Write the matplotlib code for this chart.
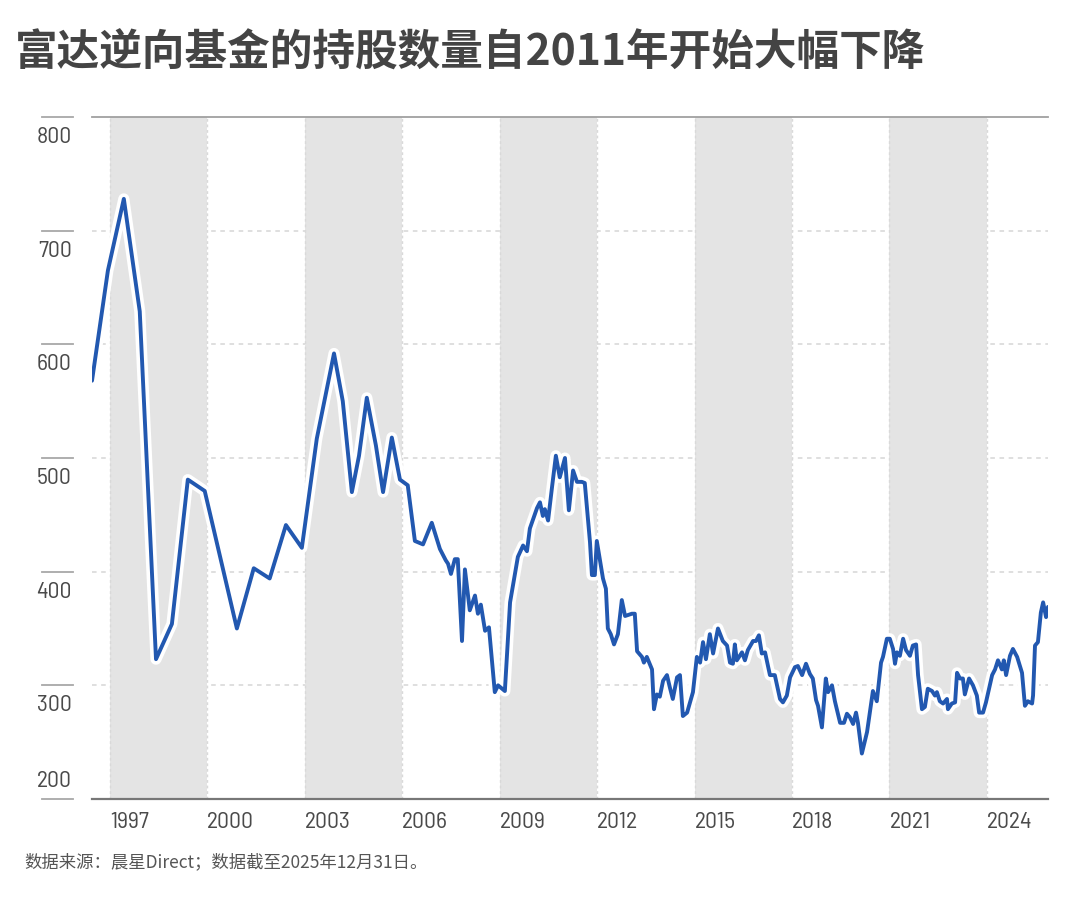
import matplotlib
matplotlib.use("Agg")
import matplotlib.pyplot as plt
import matplotlib.patheffects as pe
import matplotlib.transforms as mtransforms

# ---------------- data ----------------
title = "富达逆向基金的持股数量自2011年开始大幅下降"
footnote = "数据来源：晨星Direct；数据截至2025年12月31日。"

years = [
    1996.45, 1996.94, 1997.43, 1997.92, 1998.42, 1998.91, 1999.40, 1999.92,
    2000.42, 2000.91, 2001.43, 2001.92, 2002.42, 2002.91, 2003.37, 2003.90,
    2004.17, 2004.45, 2004.67, 2004.91, 2005.19, 2005.41, 2005.68, 2005.93,
    2006.17, 2006.39, 2006.64, 2006.91, 2007.16,
    2007.34, 2007.41, 2007.50, 2007.62, 2007.71, 2007.84, 2007.93, 2008.08,
    2008.24, 2008.33, 2008.42, 2008.55, 2008.67, 2008.85, 2008.95, 2009.16,
    2009.32, 2009.56, 2009.72, 2009.84, 2009.93, 2010.15, 2010.24, 2010.33,
    2010.39, 2010.49, 2010.61, 2010.73, 2010.85, 2011.01, 2011.13, 2011.26,
    2011.38, 2011.53, 2011.62, 2011.78, 2011.84, 2011.93, 2011.99, 2012.18,
    2012.27, 2012.33, 2012.42, 2012.52, 2012.64, 2012.76, 2012.86, 2013.07,
    2013.16, 2013.23, 2013.38, 2013.44, 2013.53, 2013.69, 2013.75, 2013.84,
    2013.93, 2014.03, 2014.15, 2014.24, 2014.33, 2014.46, 2014.55, 2014.64,
    2014.77, 2014.95, 2015.07, 2015.17, 2015.26, 2015.35, 2015.47, 2015.57,
    2015.72, 2015.87, 2016.00, 2016.09, 2016.18, 2016.24, 2016.30, 2016.46,
    2016.55, 2016.64, 2016.80, 2016.89, 2016.98, 2017.07, 2017.17, 2017.32,
    2017.47, 2017.63, 2017.72, 2017.84, 2017.94, 2018.09, 2018.18, 2018.31,
    2018.43, 2018.55, 2018.64, 2018.74, 2018.80, 2018.92, 2019.04, 2019.11,
    2019.23, 2019.32, 2019.48, 2019.60, 2019.69, 2019.78, 2019.88, 2019.97,
    2020.03, 2020.15, 2020.31, 2020.49, 2020.61, 2020.74, 2020.80, 2020.92,
    2021.01, 2021.11, 2021.17, 2021.23, 2021.32, 2021.42, 2021.51, 2021.63,
    2021.72, 2021.82, 2021.88, 2022.00, 2022.09, 2022.18, 2022.31, 2022.40,
    2022.46, 2022.55, 2022.65, 2022.77, 2022.80, 2022.92, 2023.02, 2023.08,
    2023.17, 2023.26, 2023.32, 2023.45, 2023.57, 2023.69, 2023.76, 2023.88,
    2023.97, 2024.16, 2024.25, 2024.34, 2024.46, 2024.52, 2024.59, 2024.71,
    2024.80, 2024.93, 2025.08, 2025.17, 2025.26, 2025.39, 2025.42, 2025.48,
    2025.57, 2025.66, 2025.73, 2025.82, 2025.88,
]
holdings = [
    568, 665, 728, 629, 323, 354, 481, 471,
    410, 350, 403, 394, 441, 421, 517, 592,
    550, 470, 502, 553, 511, 470, 518, 481,
    476, 427, 424, 443, 420,
    410, 407, 398, 411, 411, 339, 402, 366,
    379, 363, 371, 348, 351, 294, 300, 295,
    373, 413, 423, 418, 438, 456, 461, 449,
    455, 445, 474, 502, 483, 500, 454, 489,
    479, 479, 478, 426, 397, 397, 427, 394,
    385, 350, 345, 336, 345, 375, 361, 363,
    363, 330, 325, 320, 325, 314, 279, 292,
    290, 304, 309, 298, 288, 307, 309, 273,
    276, 294, 325, 320, 338, 323, 345, 328,
    350, 339, 335, 320, 319, 336, 322, 329,
    322, 331, 339, 339, 344, 328, 329, 309,
    309, 288, 285, 291, 307, 316, 317, 309,
    319, 310, 306, 287, 282, 263, 306, 294,
    300, 286, 267, 267, 275, 272, 266, 276,
    267, 240, 259, 295, 286, 320, 325, 341,
    341, 332, 319, 329, 326, 341, 331, 326,
    335, 336, 309, 279, 281, 297, 295, 291,
    294, 286, 284, 288, 279, 284, 285, 311,
    306, 306, 292, 306, 300, 291, 276, 276,
    285, 309, 314, 322, 314, 322, 309, 326,
    332, 325, 311, 282, 286, 284, 291, 335,
    338, 364, 373, 360, 369,
]

band_starts = [1997, 2003, 2009, 2015, 2021]
band_width = 3
x_ticks = [1997, 2000, 2003, 2006, 2009, 2012, 2015, 2018, 2021, 2024]
y_ticks = [200, 300, 400, 500, 600, 700, 800]

# ---------------- style ----------------
CJK = ["Noto Sans CJK SC", "DejaVu Sans"]
NARROW = ["Barlow Semi Condensed", "Barlow Condensed", "DejaVu Sans"]
plt.rcParams["font.family"] = CJK

W, H = 1080, 903
fig = plt.figure(figsize=(W / 100, H / 100), dpi=100)
fig.patch.set_facecolor("white")

ax_left, ax_right, ax_top, ax_bot = 92, 1048, 118, 800
ax = fig.add_axes([ax_left / W, 1 - ax_bot / H, (ax_right - ax_left) / W, (ax_bot - ax_top) / H])
ax.set_xlim(1996.45, 2025.88)
ax.set_ylim(200, 800)

# grid (beneath bands)
for v in y_ticks[1:-1]:
    ax.axhline(v, color="#d6d6d6", lw=1.1, ls=(0, (3, 3)), zorder=0.5)

# shaded bands
for s in band_starts:
    ax.axvspan(s, s + band_width, color="#e4e4e4", lw=0, zorder=1)
for t in x_ticks:
    ax.axvline(t, color="#d9d9d9", lw=1, ls=(0, (2, 2)), zorder=1.2)

# data line with white halo
ax.plot(years, holdings, color="#2258b0", lw=2.8, zorder=3,
        solid_joinstyle="round", solid_capstyle="round",
        path_effects=[pe.Stroke(linewidth=8, foreground="white",
                                joinstyle="round", capstyle="round"),
                      pe.Normal()])

# spines
for side in ["left", "right"]:
    ax.spines[side].set_visible(False)
ax.spines["top"].set_color("#a0a0a0")
ax.spines["top"].set_linewidth(1.3)
ax.spines["bottom"].set_color("#777777")
ax.spines["bottom"].set_linewidth(1.6)
ax.set_xticks([])
ax.set_yticks([])

# y tick marks and labels (left of axes)
ytrans = mtransforms.blended_transform_factory(fig.transFigure, ax.transData)
for v in y_ticks:
    ax.plot([42 / W, 73 / W], [v, v], transform=ytrans, color="#a8a8a8", lw=1.3,
            clip_on=False, zorder=2)
    if v == y_ticks[0]:
        tr = mtransforms.offset_copy(ytrans, fig=fig, y=8, units="dots")
        va = "bottom"
    else:
        tr = mtransforms.offset_copy(ytrans, fig=fig, y=-9, units="dots")
        va = "top"
    ax.text(72 / W, v, str(v), transform=tr, ha="right", va=va, fontsize=17,
            color="#4a4a4a", family=NARROW)

# x labels left-aligned at tick years
xtrans = mtransforms.blended_transform_factory(ax.transData, fig.transFigure)
for t in x_ticks:
    ax.text(t, 1 - 823 / H, str(t), transform=xtrans, ha="left", va="center",
            fontsize=17, color="#4a4a4a", family=NARROW)

# title and footnote
fig.text(15 / W, 1 - 53 / H, title, ha="left", va="center", fontsize=30.7,
         fontweight="bold", color="#444444", family=CJK)
fig.text(24 / W, 1 - 862 / H, footnote, ha="left", va="center", fontsize=12.5,
         color="#555555", family=CJK)

fig.savefig("out.png", dpi=100, facecolor="white")
